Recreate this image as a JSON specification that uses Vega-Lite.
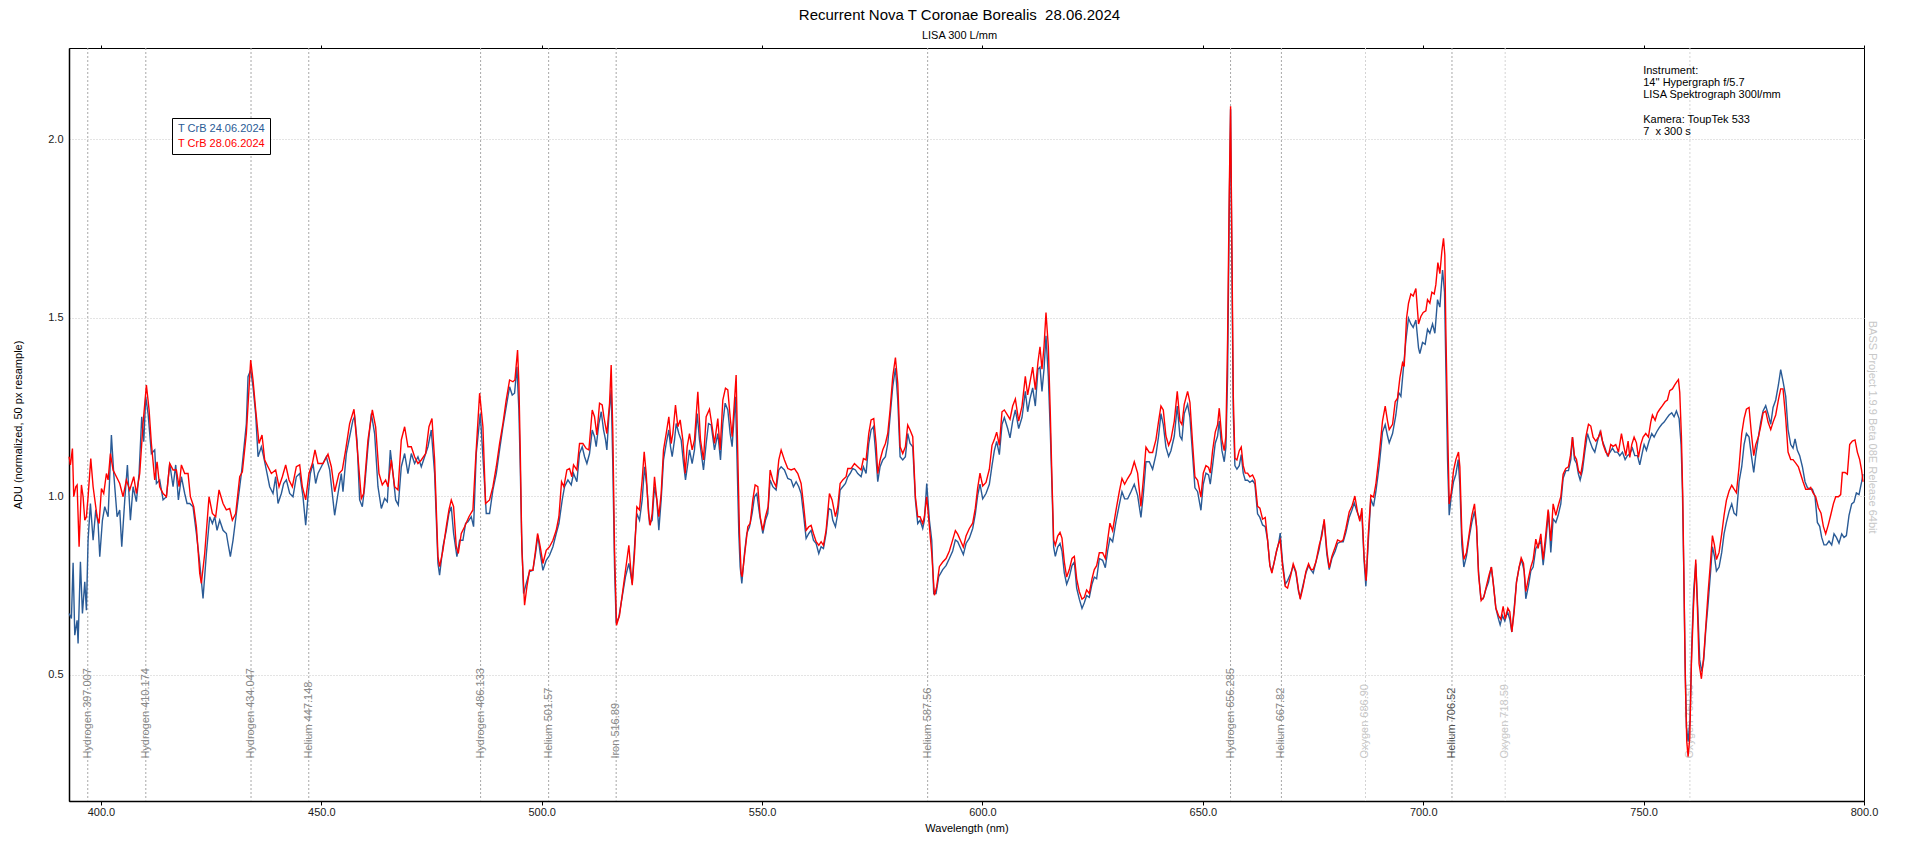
{
"$schema": "https://vega.github.io/schema/vega-lite/v6.json",
"width": 1795, "height": 753,
"autosize": {"type": "none"},
"padding": {"left": 69, "top": 48, "right": 56, "bottom": 47},
"background": "white",
"config": {"view": {"stroke": "#000000", "strokeWidth": 1}, "font": "Liberation Sans"},
"title": {"text": "Recurrent Nova T Coronae Borealis \u00a028.06.2024", "subtitle": "LISA 300 L/mm", "font": "Liberation Sans", "subtitleFont": "Liberation Sans", "fontSize": 15, "fontWeight": "normal", "subtitleFontSize": 11, "color": "#000000", "subtitleColor": "#000000", "anchor": "middle", "frame": "group", "dx": -7, "offset": 4, "subtitlePadding": 7},
"layer": [
{
"data": {"values": [
{"w":397.007,"t":"Hydrogen 397.007","e":"H"},
{"w":410.174,"t":"Hydrogen 410.174","e":"H"},
{"w":434.047,"t":"Hydrogen 434.047","e":"H"},
{"w":447.148,"t":"Helium 447.148","e":"He"},
{"w":486.133,"t":"Hydrogen 486.133","e":"H"},
{"w":501.57,"t":"Helium 501.57","e":"He"},
{"w":516.89,"t":"Iron 516.89","e":"Fe"},
{"w":587.56,"t":"Helium 587.56","e":"He"},
{"w":656.285,"t":"Hydrogen 656.285","e":"H"},
{"w":667.82,"t":"Helium 667.82","e":"He"},
{"w":686.90,"t":"Oxygen 686.90","e":"O"},
{"w":706.52,"t":"Helium 706.52","e":"He"},
{"w":718.59,"t":"Oxygen 718.59","e":"O"},
{"w":760.50,"t":"Oxygen 760.50","e":"O"}
]},
"mark": {"type": "rule", "strokeDash": [2, 2], "strokeWidth": 1},
"encoding": {
"x": {"field": "w", "type": "quantitative", "scale": {"domain": [392.75, 800], "nice": false, "zero": false}, "axis": {"orient": "top", "labels": false, "ticks": true, "tickSize": 3, "tickColor": "#000000", "domain": false, "grid": false, "title": null, "values": [400,450,500,550,600,650,700,750,800]}},
"color": {"condition": {"test": "datum.e === 'O'", "value": "#d4d4d4"}, "value": "#a8a8a8"}
}
},
{
"data": {"values": [
{"w":397.007,"t":"Hydrogen 397.007","e":"H"},
{"w":410.174,"t":"Hydrogen 410.174","e":"H"},
{"w":434.047,"t":"Hydrogen 434.047","e":"H"},
{"w":447.148,"t":"Helium 447.148","e":"He"},
{"w":486.133,"t":"Hydrogen 486.133","e":"H"},
{"w":501.57,"t":"Helium 501.57","e":"He"},
{"w":516.89,"t":"Iron 516.89","e":"Fe"},
{"w":587.56,"t":"Helium 587.56","e":"He"},
{"w":656.285,"t":"Hydrogen 656.285","e":"H"},
{"w":667.82,"t":"Helium 667.82","e":"He"},
{"w":686.90,"t":"Oxygen 686.90","e":"O"},
{"w":706.52,"t":"Helium 706.52","e":"He"},
{"w":718.59,"t":"Oxygen 718.59","e":"O"},
{"w":760.50,"t":"Oxygen 760.50","e":"O"}
]},
"mark": {"type": "text", "angle": 270, "align": "left", "baseline": "middle", "fontSize": 11, "font": "Liberation Sans"},
"encoding": {
"x": {"field": "w", "type": "quantitative", "scale": {"domain": [392.75, 800], "nice": false, "zero": false}, "axis": null},
"y": {"datum": 0.2644, "type": "quantitative", "scale": {"domain": [0.1457, 2.2549], "nice": false, "zero": false}, "axis": null},
"text": {"field": "t"},
"color": {"condition": [{"test": "datum.e === 'O'", "value": "#c8c8c8"}, {"test": "datum.w === 706.52", "value": "#505050"}], "value": "#888888"}
}
},
{
"data": {"values": [
{"s":"a","w":392.77,"v":0.671},{"s":"a","w":393.30,"v":0.657},{"s":"a","w":393.68,"v":0.813},{"s":"a","w":394.06,"v":0.610},{"s":"a","w":394.59,"v":0.652},{"s":"a","w":394.81,"v":0.587},{"s":"a","w":395.34,"v":0.816},{"s":"a","w":395.80,"v":0.671},{"s":"a","w":396.33,"v":0.760},{"s":"a","w":396.70,"v":0.680},{"s":"a","w":397.08,"v":0.876},{"s":"a","w":397.61,"v":0.979},{"s":"a","w":398.22,"v":0.876},{"s":"a","w":398.82,"v":0.961},{"s":"a","w":399.35,"v":0.923},{"s":"a","w":399.73,"v":0.830},{"s":"a","w":400.33,"v":0.932},{"s":"a","w":400.86,"v":0.970},{"s":"a","w":401.62,"v":0.942},{"s":"a","w":402.37,"v":1.171},{"s":"a","w":402.90,"v":1.063},{"s":"a","w":403.66,"v":0.942},{"s":"a","w":404.26,"v":0.961},{"s":"a","w":404.72,"v":0.858},{"s":"a","w":405.40,"v":0.989},{"s":"a","w":406.00,"v":1.087},{"s":"a","w":406.68,"v":0.932},{"s":"a","w":407.29,"v":1.026},{"s":"a","w":408.04,"v":0.984},{"s":"a","w":408.65,"v":1.063},{"s":"a","w":409.25,"v":1.222},{"s":"a","w":409.71,"v":1.152},{"s":"a","w":410.16,"v":1.278},{"s":"a","w":410.69,"v":1.231},{"s":"a","w":411.44,"v":1.119},{"s":"a","w":412.20,"v":1.129},{"s":"a","w":412.58,"v":1.035},{"s":"a","w":413.33,"v":1.045},{"s":"a","w":414.09,"v":0.989},{"s":"a","w":414.85,"v":0.998},{"s":"a","w":415.60,"v":1.091},{"s":"a","w":416.36,"v":1.026},{"s":"a","w":416.96,"v":1.087},{"s":"a","w":417.57,"v":0.989},{"s":"a","w":418.25,"v":1.054},{"s":"a","w":419.00,"v":1.007},{"s":"a","w":419.53,"v":0.979},{"s":"a","w":420.14,"v":0.979},{"s":"a","w":420.89,"v":0.970},{"s":"a","w":421.65,"v":0.895},{"s":"a","w":422.41,"v":0.813},{"s":"a","w":423.16,"v":0.713},{"s":"a","w":423.92,"v":0.839},{"s":"a","w":424.67,"v":0.942},{"s":"a","w":425.28,"v":0.923},{"s":"a","w":425.81,"v":0.942},{"s":"a","w":426.34,"v":0.904},{"s":"a","w":426.94,"v":0.932},{"s":"a","w":427.70,"v":0.904},{"s":"a","w":428.45,"v":0.895},{"s":"a","w":428.83,"v":0.867},{"s":"a","w":429.36,"v":0.830},{"s":"a","w":429.96,"v":0.876},{"s":"a","w":430.72,"v":0.951},{"s":"a","w":431.86,"v":1.063},{"s":"a","w":432.99,"v":1.203},{"s":"a","w":433.37,"v":1.334},{"s":"a","w":433.97,"v":1.353},{"s":"a","w":434.50,"v":1.306},{"s":"a","w":435.11,"v":1.227},{"s":"a","w":435.64,"v":1.110},{"s":"a","w":436.39,"v":1.138},{"s":"a","w":436.92,"v":1.110},{"s":"a","w":437.52,"v":1.073},{"s":"a","w":438.28,"v":1.026},{"s":"a","w":439.04,"v":1.007},{"s":"a","w":439.64,"v":1.054},{"s":"a","w":440.17,"v":0.979},{"s":"a","w":440.93,"v":1.007},{"s":"a","w":441.45,"v":1.035},{"s":"a","w":442.06,"v":1.045},{"s":"a","w":442.82,"v":1.007},{"s":"a","w":443.57,"v":0.998},{"s":"a","w":444.33,"v":1.054},{"s":"a","w":445.09,"v":1.063},{"s":"a","w":445.84,"v":0.998},{"s":"a","w":446.45,"v":0.918},{"s":"a","w":446.97,"v":0.998},{"s":"a","w":447.50,"v":1.063},{"s":"a","w":448.11,"v":1.091},{"s":"a","w":448.71,"v":1.035},{"s":"a","w":449.24,"v":1.063},{"s":"a","w":450.00,"v":1.082},{"s":"a","w":450.76,"v":1.101},{"s":"a","w":451.13,"v":1.110},{"s":"a","w":451.89,"v":1.073},{"s":"a","w":452.64,"v":0.989},{"s":"a","w":453.02,"v":0.946},{"s":"a","w":453.78,"v":1.007},{"s":"a","w":454.53,"v":1.063},{"s":"a","w":454.91,"v":1.012},{"s":"a","w":455.67,"v":1.119},{"s":"a","w":456.42,"v":1.166},{"s":"a","w":457.18,"v":1.213},{"s":"a","w":457.56,"v":1.222},{"s":"a","w":458.09,"v":1.157},{"s":"a","w":458.69,"v":0.989},{"s":"a","w":459.30,"v":0.970},{"s":"a","w":459.83,"v":1.026},{"s":"a","w":460.58,"v":1.138},{"s":"a","w":461.34,"v":1.231},{"s":"a","w":462.09,"v":1.175},{"s":"a","w":462.85,"v":1.026},{"s":"a","w":463.61,"v":0.965},{"s":"a","w":464.36,"v":0.993},{"s":"a","w":464.97,"v":0.984},{"s":"a","w":465.65,"v":1.129},{"s":"a","w":466.25,"v":1.063},{"s":"a","w":466.86,"v":0.989},{"s":"a","w":467.46,"v":0.975},{"s":"a","w":468.14,"v":1.082},{"s":"a","w":468.90,"v":1.119},{"s":"a","w":469.65,"v":1.063},{"s":"a","w":470.41,"v":1.119},{"s":"a","w":471.16,"v":1.091},{"s":"a","w":471.92,"v":1.110},{"s":"a","w":472.68,"v":1.082},{"s":"a","w":473.43,"v":1.110},{"s":"a","w":474.19,"v":1.138},{"s":"a","w":474.94,"v":1.185},{"s":"a","w":475.70,"v":1.063},{"s":"a","w":476.46,"v":0.811},{"s":"a","w":476.83,"v":0.778},{"s":"a","w":477.59,"v":0.858},{"s":"a","w":478.35,"v":0.904},{"s":"a","w":478.95,"v":0.951},{"s":"a","w":479.48,"v":0.970},{"s":"a","w":480.01,"v":0.895},{"s":"a","w":480.76,"v":0.830},{"s":"a","w":481.37,"v":0.876},{"s":"a","w":482.12,"v":0.876},{"s":"a","w":482.73,"v":0.923},{"s":"a","w":483.26,"v":0.928},{"s":"a","w":484.01,"v":0.942},{"s":"a","w":484.54,"v":0.914},{"s":"a","w":485.15,"v":1.119},{"s":"a","w":486.06,"v":1.231},{"s":"a","w":486.66,"v":1.110},{"s":"a","w":487.42,"v":0.951},{"s":"a","w":488.17,"v":0.951},{"s":"a","w":488.93,"v":1.017},{"s":"a","w":489.69,"v":1.063},{"s":"a","w":490.44,"v":1.129},{"s":"a","w":491.20,"v":1.194},{"s":"a","w":491.95,"v":1.250},{"s":"a","w":492.71,"v":1.306},{"s":"a","w":493.31,"v":1.283},{"s":"a","w":493.84,"v":1.288},{"s":"a","w":494.37,"v":1.362},
{"s":"a","w":494.82,"v":1.241},{"s":"a","w":495.13,"v":1.082},{"s":"a","w":495.43,"v":0.895},{"s":"a","w":495.88,"v":0.727},{"s":"a","w":496.49,"v":0.755},{"s":"a","w":497.24,"v":0.788},{"s":"a","w":498.00,"v":0.792},{"s":"a","w":498.60,"v":0.839},{"s":"a","w":499.13,"v":0.890},{"s":"a","w":499.66,"v":0.839},{"s":"a","w":500.27,"v":0.792},{"s":"a","w":501.02,"v":0.820},{"s":"a","w":501.78,"v":0.834},{"s":"a","w":502.54,"v":0.858},{"s":"a","w":503.29,"v":0.895},{"s":"a","w":503.90,"v":0.923},{"s":"a","w":504.65,"v":0.989},{"s":"a","w":505.18,"v":1.026},{"s":"a","w":505.94,"v":1.045},{"s":"a","w":506.69,"v":1.031},{"s":"a","w":507.22,"v":1.063},{"s":"a","w":507.98,"v":1.040},{"s":"a","w":508.58,"v":1.119},{"s":"a","w":509.19,"v":1.138},{"s":"a","w":509.72,"v":1.110},{"s":"a","w":510.25,"v":1.091},{"s":"a","w":510.85,"v":1.119},{"s":"a","w":511.46,"v":1.185},{"s":"a","w":511.98,"v":1.166},{"s":"a","w":512.36,"v":1.138},{"s":"a","w":512.97,"v":1.203},{"s":"a","w":513.50,"v":1.236},{"s":"a","w":514.03,"v":1.185},{"s":"a","w":514.48,"v":1.157},{"s":"a","w":514.78,"v":1.129},{"s":"a","w":515.23,"v":1.222},{"s":"a","w":515.76,"v":1.297},{"s":"a","w":516.14,"v":1.082},{"s":"a","w":516.52,"v":0.802},{"s":"a","w":516.90,"v":0.643},{"s":"a","w":517.50,"v":0.661},{"s":"a","w":518.26,"v":0.718},{"s":"a","w":519.01,"v":0.774},{"s":"a","w":519.77,"v":0.811},{"s":"a","w":520.53,"v":0.755},{"s":"a","w":521.06,"v":0.858},{"s":"a","w":521.58,"v":0.951},{"s":"a","w":522.19,"v":0.932},{"s":"a","w":522.79,"v":0.989},{"s":"a","w":523.32,"v":1.082},{"s":"a","w":523.85,"v":1.026},{"s":"a","w":524.46,"v":0.923},{"s":"a","w":525.06,"v":0.932},{"s":"a","w":525.59,"v":1.026},{"s":"a","w":526.12,"v":0.989},{"s":"a","w":526.57,"v":0.904},{"s":"a","w":527.10,"v":0.989},{"s":"a","w":527.63,"v":1.101},{"s":"a","w":528.24,"v":1.147},{"s":"a","w":528.84,"v":1.185},{"s":"a","w":529.22,"v":1.138},{"s":"a","w":529.60,"v":1.110},{"s":"a","w":530.13,"v":1.157},{"s":"a","w":530.51,"v":1.203},{"s":"a","w":531.11,"v":1.175},{"s":"a","w":531.64,"v":1.157},{"s":"a","w":532.17,"v":1.091},{"s":"a","w":532.62,"v":1.045},{"s":"a","w":533.15,"v":1.091},{"s":"a","w":533.53,"v":1.129},{"s":"a","w":534.13,"v":1.091},{"s":"a","w":534.66,"v":1.129},{"s":"a","w":535.27,"v":1.231},{"s":"a","w":535.80,"v":1.157},{"s":"a","w":536.70,"v":1.073},{"s":"a","w":537.31,"v":1.147},{"s":"a","w":537.84,"v":1.203},{"s":"a","w":538.44,"v":1.199},{"s":"a","w":539.20,"v":1.129},{"s":"a","w":539.95,"v":1.175},{"s":"a","w":540.56,"v":1.101},{"s":"a","w":541.09,"v":1.203},{"s":"a","w":541.62,"v":1.260},{"s":"a","w":542.22,"v":1.241},{"s":"a","w":542.75,"v":1.175},{"s":"a","w":543.20,"v":1.138},{"s":"a","w":543.96,"v":1.278},{"s":"a","w":544.26,"v":1.129},{"s":"a","w":544.72,"v":0.895},{"s":"a","w":545.02,"v":0.802},{"s":"a","w":545.40,"v":0.755},{"s":"a","w":546.00,"v":0.839},{"s":"a","w":546.53,"v":0.895},{"s":"a","w":547.14,"v":0.914},{"s":"a","w":547.74,"v":0.951},{"s":"a","w":548.27,"v":0.998},{"s":"a","w":548.80,"v":1.007},{"s":"a","w":549.40,"v":0.951},{"s":"a","w":550.16,"v":0.895},{"s":"a","w":550.76,"v":0.932},{"s":"a","w":551.29,"v":0.951},{"s":"a","w":551.82,"v":1.045},{"s":"a","w":552.43,"v":1.026},{"s":"a","w":553.18,"v":1.017},{"s":"a","w":553.79,"v":1.073},{"s":"a","w":554.32,"v":1.082},{"s":"a","w":555.07,"v":1.073},{"s":"a","w":555.83,"v":1.049},{"s":"a","w":556.59,"v":1.045},{"s":"a","w":557.11,"v":1.026},{"s":"a","w":557.72,"v":1.040},{"s":"a","w":558.32,"v":1.026},{"s":"a","w":558.85,"v":1.007},{"s":"a","w":559.38,"v":0.951},{"s":"a","w":559.99,"v":0.881},{"s":"a","w":560.59,"v":0.895},{"s":"a","w":561.12,"v":0.904},{"s":"a","w":561.65,"v":0.876},{"s":"a","w":562.26,"v":0.867},{"s":"a","w":562.86,"v":0.839},{"s":"a","w":563.39,"v":0.858},{"s":"a","w":563.92,"v":0.853},{"s":"a","w":564.52,"v":0.895},{"s":"a","w":565.13,"v":0.965},{"s":"a","w":565.66,"v":0.961},{"s":"a","w":566.04,"v":0.932},{"s":"a","w":566.64,"v":0.914},{"s":"a","w":567.17,"v":0.951},{"s":"a","w":567.70,"v":1.017},{"s":"a","w":568.30,"v":1.026},{"s":"a","w":568.91,"v":1.035},{"s":"a","w":569.44,"v":1.054},{"s":"a","w":569.97,"v":1.063},{"s":"a","w":570.57,"v":1.077},{"s":"a","w":571.18,"v":1.073},{"s":"a","w":571.70,"v":1.063},{"s":"a","w":572.46,"v":1.054},{"s":"a","w":572.99,"v":1.082},{"s":"a","w":573.59,"v":1.063},{"s":"a","w":574.20,"v":1.147},{"s":"a","w":574.73,"v":1.185},{"s":"a","w":575.26,"v":1.194},{"s":"a","w":575.71,"v":1.129},{"s":"a","w":576.24,"v":1.040},{"s":"a","w":576.77,"v":1.082},{"s":"a","w":577.37,"v":1.101},{"s":"a","w":577.98,"v":1.110},{"s":"a","w":578.51,"v":1.147},{"s":"a","w":579.04,"v":1.222},{"s":"a","w":579.64,"v":1.306},{"s":"a","w":580.25,"v":1.358},{"s":"a","w":580.78,"v":1.269},{"s":"a","w":581.31,"v":1.110},{"s":"a","w":581.91,"v":1.101},{"s":"a","w":582.51,"v":1.110},{"s":"a","w":583.04,"v":1.175},{"s":"a","w":583.57,"v":1.147},{"s":"a","w":584.18,"v":1.138},{"s":"a","w":584.78,"v":0.989},{"s":"a","w":585.31,"v":0.923},{"s":"a","w":585.84,"v":0.932},{"s":"a","w":586.44,"v":0.909},{"s":"a","w":586.82,"v":0.932},{"s":"a","w":587.35,"v":1.035},{"s":"a","w":587.96,"v":0.932},{"s":"a","w":588.49,"v":0.876},{"s":"a","w":588.94,"v":0.727},{"s":"a","w":589.47,"v":0.727},{"s":"a","w":590.07,"v":0.774},
{"s":"a","w":590.98,"v":0.794},{"s":"a","w":591.73,"v":0.805},{"s":"a","w":592.49,"v":0.825},{"s":"a","w":593.24,"v":0.846},{"s":"a","w":593.85,"v":0.877},{"s":"a","w":594.38,"v":0.872},{"s":"a","w":595.13,"v":0.851},{"s":"a","w":595.66,"v":0.836},{"s":"a","w":596.27,"v":0.867},{"s":"a","w":597.02,"v":0.882},{"s":"a","w":597.78,"v":0.909},{"s":"a","w":598.38,"v":0.950},{"s":"a","w":598.91,"v":1.002},{"s":"a","w":599.44,"v":1.033},{"s":"a","w":600.05,"v":0.992},{"s":"a","w":600.80,"v":1.007},{"s":"a","w":601.56,"v":1.033},{"s":"a","w":602.16,"v":1.085},{"s":"a","w":602.69,"v":1.127},{"s":"a","w":603.22,"v":1.153},{"s":"a","w":603.83,"v":1.116},{"s":"a","w":604.43,"v":1.200},{"s":"a","w":604.96,"v":1.220},{"s":"a","w":605.72,"v":1.189},{"s":"a","w":606.25,"v":1.163},{"s":"a","w":606.85,"v":1.210},{"s":"a","w":607.46,"v":1.241},{"s":"a","w":608.21,"v":1.189},{"s":"a","w":608.97,"v":1.220},{"s":"a","w":609.72,"v":1.293},{"s":"a","w":610.25,"v":1.236},{"s":"a","w":610.78,"v":1.272},{"s":"a","w":611.39,"v":1.303},{"s":"a","w":611.99,"v":1.252},{"s":"a","w":612.60,"v":1.355},{"s":"a","w":613.05,"v":1.361},{"s":"a","w":613.50,"v":1.293},{"s":"a","w":613.96,"v":1.355},{"s":"a","w":614.41,"v":1.449},{"s":"a","w":614.94,"v":1.335},{"s":"a","w":615.39,"v":1.179},{"s":"a","w":615.77,"v":1.023},{"s":"a","w":616.15,"v":0.857},{"s":"a","w":616.53,"v":0.831},{"s":"a","w":617.06,"v":0.857},{"s":"a","w":617.59,"v":0.867},{"s":"a","w":618.04,"v":0.846},{"s":"a","w":618.57,"v":0.784},{"s":"a","w":619.10,"v":0.753},{"s":"a","w":619.70,"v":0.773},{"s":"a","w":620.31,"v":0.805},{"s":"a","w":620.84,"v":0.815},{"s":"a","w":621.37,"v":0.742},{"s":"a","w":621.97,"v":0.711},{"s":"a","w":622.58,"v":0.685},{"s":"a","w":623.10,"v":0.701},{"s":"a","w":623.63,"v":0.721},{"s":"a","w":624.24,"v":0.716},{"s":"a","w":624.84,"v":0.753},{"s":"a","w":625.37,"v":0.773},{"s":"a","w":625.90,"v":0.768},{"s":"a","w":626.51,"v":0.825},{"s":"a","w":627.26,"v":0.820},{"s":"a","w":627.87,"v":0.799},{"s":"a","w":628.40,"v":0.846},{"s":"a","w":628.92,"v":0.882},{"s":"a","w":629.53,"v":0.872},{"s":"a","w":630.29,"v":0.929},{"s":"a","w":631.04,"v":0.976},{"s":"a","w":631.65,"v":1.012},{"s":"a","w":632.25,"v":0.992},{"s":"a","w":632.93,"v":0.992},{"s":"a","w":633.69,"v":1.012},{"s":"a","w":634.44,"v":1.033},{"s":"a","w":635.20,"v":1.002},{"s":"a","w":635.95,"v":0.940},{"s":"a","w":636.48,"v":1.002},{"s":"a","w":637.09,"v":1.096},{"s":"a","w":637.85,"v":1.096},{"s":"a","w":638.60,"v":1.075},{"s":"a","w":639.36,"v":1.116},{"s":"a","w":639.96,"v":1.168},{"s":"a","w":640.49,"v":1.231},{"s":"a","w":641.02,"v":1.200},{"s":"a","w":641.62,"v":1.137},{"s":"a","w":642.23,"v":1.111},{"s":"a","w":642.76,"v":1.127},{"s":"a","w":643.52,"v":1.168},{"s":"a","w":644.19,"v":1.252},{"s":"a","w":644.80,"v":1.168},{"s":"a","w":645.25,"v":1.158},{"s":"a","w":645.78,"v":1.231},{"s":"a","w":646.54,"v":1.257},{"s":"a","w":647.07,"v":1.220},{"s":"a","w":647.67,"v":1.116},{"s":"a","w":648.20,"v":1.023},{"s":"a","w":648.81,"v":1.012},{"s":"a","w":649.56,"v":0.960},{"s":"a","w":650.09,"v":1.033},{"s":"a","w":650.70,"v":1.064},{"s":"a","w":651.30,"v":1.059},{"s":"a","w":651.68,"v":1.033},{"s":"a","w":652.21,"v":1.085},{"s":"a","w":652.81,"v":1.148},{"s":"a","w":653.34,"v":1.168},{"s":"a","w":653.72,"v":1.210},{"s":"a","w":654.33,"v":1.127},{"s":"a","w":654.85,"v":1.096},{"s":"a","w":655.23,"v":1.137},{"s":"a","w":655.61,"v":1.335},{"s":"a","w":655.99,"v":1.802},{"s":"a","w":656.29,"v":2.083},{"s":"a","w":656.59,"v":1.647},{"s":"a","w":656.90,"v":1.231},{"s":"a","w":657.27,"v":1.085},{"s":"a","w":657.73,"v":1.075},{"s":"a","w":658.26,"v":1.085},{"s":"a","w":658.71,"v":1.116},{"s":"a","w":659.16,"v":1.064},{"s":"a","w":659.62,"v":1.044},{"s":"a","w":660.15,"v":1.044},{"s":"a","w":660.67,"v":1.038},{"s":"a","w":661.28,"v":1.044},{"s":"a","w":661.81,"v":1.033},{"s":"a","w":662.41,"v":0.950},{"s":"a","w":662.94,"v":0.940},{"s":"a","w":663.55,"v":0.919},{"s":"a","w":664.15,"v":0.914},{"s":"a","w":664.68,"v":0.877},{"s":"a","w":665.21,"v":0.805},{"s":"a","w":665.66,"v":0.789},{"s":"a","w":666.19,"v":0.815},{"s":"a","w":666.72,"v":0.846},{"s":"a","w":667.18,"v":0.867},{"s":"a","w":667.55,"v":0.896},{"s":"a","w":668.08,"v":0.815},{"s":"a","w":668.69,"v":0.753},{"s":"a","w":669.22,"v":0.763},{"s":"a","w":669.97,"v":0.784},{"s":"a","w":670.50,"v":0.805},{"s":"a","w":671.11,"v":0.784},{"s":"a","w":671.71,"v":0.732},{"s":"a","w":672.09,"v":0.716},{"s":"a","w":672.77,"v":0.753},{"s":"a","w":673.38,"v":0.784},{"s":"a","w":673.98,"v":0.805},{"s":"a","w":674.51,"v":0.794},{"s":"a","w":675.04,"v":0.784},{"s":"a","w":675.64,"v":0.815},{"s":"a","w":676.40,"v":0.851},{"s":"a","w":677.00,"v":0.898},{"s":"a","w":677.53,"v":0.929},{"s":"a","w":678.14,"v":0.836},{"s":"a","w":678.67,"v":0.794},{"s":"a","w":679.27,"v":0.825},{"s":"a","w":680.03,"v":0.846},{"s":"a","w":680.56,"v":0.867},{"s":"a","w":681.31,"v":0.872},{"s":"a","w":681.84,"v":0.872},{"s":"a","w":682.45,"v":0.898},{"s":"a","w":683.20,"v":0.940},{"s":"a","w":683.81,"v":0.960},{"s":"a","w":684.34,"v":0.981},{"s":"a","w":684.87,"v":0.960},{"s":"a","w":685.47,"v":0.940},{"s":"a","w":686.08,"v":0.950},{"s":"a","w":686.60,"v":0.815},{"s":"a","w":686.98,"v":0.747},{"s":"a","w":687.51,"v":0.867},{"s":"a","w":688.11,"v":0.992},{"s":"a","w":688.72,"v":0.971},{"s":"a","w":689.25,"v":1.012},{"s":"a","w":690.01,"v":1.085},{"s":"a","w":690.76,"v":1.179},{"s":"a","w":691.37,"v":1.200},{"s":"a","w":691.90,"v":1.168},
{"s":"a","w":692.28,"v":1.149},{"s":"a","w":693.04,"v":1.175},{"s":"a","w":693.79,"v":1.227},{"s":"a","w":694.40,"v":1.290},{"s":"a","w":694.93,"v":1.279},{"s":"a","w":695.46,"v":1.352},{"s":"a","w":696.06,"v":1.436},{"s":"a","w":696.66,"v":1.498},{"s":"a","w":697.19,"v":1.482},{"s":"a","w":697.72,"v":1.472},{"s":"a","w":698.33,"v":1.493},{"s":"a","w":698.93,"v":1.415},{"s":"a","w":699.23,"v":1.399},{"s":"a","w":699.84,"v":1.430},{"s":"a","w":700.44,"v":1.425},{"s":"a","w":700.97,"v":1.467},{"s":"a","w":701.50,"v":1.456},{"s":"a","w":702.11,"v":1.482},{"s":"a","w":702.64,"v":1.456},{"s":"a","w":703.24,"v":1.550},{"s":"a","w":703.77,"v":1.529},{"s":"a","w":704.38,"v":1.633},{"s":"a","w":704.83,"v":1.571},{"s":"a","w":705.13,"v":1.363},{"s":"a","w":705.51,"v":1.102},{"s":"a","w":705.89,"v":0.946},{"s":"a","w":706.34,"v":0.998},{"s":"a","w":706.87,"v":1.040},{"s":"a","w":707.40,"v":1.061},{"s":"a","w":707.93,"v":1.102},{"s":"a","w":708.31,"v":1.030},{"s":"a","w":708.76,"v":0.863},{"s":"a","w":709.21,"v":0.801},{"s":"a","w":709.82,"v":0.832},{"s":"a","w":710.42,"v":0.884},{"s":"a","w":711.03,"v":0.926},{"s":"a","w":711.63,"v":0.957},{"s":"a","w":712.09,"v":0.915},{"s":"a","w":712.54,"v":0.790},{"s":"a","w":713.07,"v":0.712},{"s":"a","w":713.60,"v":0.712},{"s":"a","w":714.20,"v":0.738},{"s":"a","w":714.81,"v":0.759},{"s":"a","w":715.41,"v":0.801},{"s":"a","w":715.87,"v":0.759},{"s":"a","w":716.47,"v":0.686},{"s":"a","w":717.08,"v":0.655},{"s":"a","w":717.45,"v":0.639},{"s":"a","w":717.98,"v":0.665},{"s":"a","w":718.51,"v":0.650},{"s":"a","w":719.12,"v":0.676},{"s":"a","w":719.64,"v":0.655},{"s":"a","w":720.10,"v":0.619},{"s":"a","w":720.63,"v":0.686},{"s":"a","w":721.16,"v":0.759},{"s":"a","w":721.76,"v":0.801},{"s":"a","w":722.29,"v":0.822},{"s":"a","w":722.90,"v":0.790},{"s":"a","w":723.27,"v":0.712},{"s":"a","w":723.88,"v":0.749},{"s":"a","w":724.41,"v":0.790},{"s":"a","w":724.94,"v":0.801},{"s":"a","w":725.54,"v":0.853},{"s":"a","w":726.07,"v":0.863},{"s":"a","w":726.68,"v":0.874},{"s":"a","w":727.21,"v":0.806},{"s":"a","w":727.81,"v":0.874},{"s":"a","w":728.41,"v":0.957},{"s":"a","w":728.94,"v":0.842},{"s":"a","w":729.47,"v":0.936},{"s":"a","w":730.08,"v":0.926},{"s":"a","w":730.61,"v":0.946},{"s":"a","w":731.21,"v":0.978},{"s":"a","w":731.74,"v":1.050},{"s":"a","w":732.35,"v":1.071},{"s":"a","w":732.95,"v":1.071},{"s":"a","w":733.48,"v":1.102},{"s":"a","w":733.86,"v":1.165},{"s":"a","w":734.31,"v":1.102},{"s":"a","w":734.77,"v":1.092},{"s":"a","w":735.22,"v":1.061},{"s":"a","w":735.60,"v":1.045},{"s":"a","w":736.12,"v":1.071},{"s":"a","w":736.65,"v":1.123},{"s":"a","w":737.26,"v":1.175},{"s":"a","w":737.79,"v":1.154},{"s":"a","w":738.39,"v":1.134},{"s":"a","w":738.92,"v":1.123},{"s":"a","w":739.53,"v":1.154},{"s":"a","w":740.13,"v":1.180},{"s":"a","w":740.66,"v":1.154},{"s":"a","w":741.27,"v":1.134},{"s":"a","w":741.79,"v":1.113},{"s":"a","w":742.40,"v":1.123},{"s":"a","w":742.93,"v":1.134},{"s":"a","w":743.46,"v":1.123},{"s":"a","w":744.06,"v":1.123},{"s":"a","w":744.59,"v":1.113},{"s":"a","w":745.20,"v":1.123},{"s":"a","w":745.80,"v":1.102},{"s":"a","w":746.33,"v":1.113},{"s":"a","w":746.86,"v":1.118},{"s":"a","w":747.47,"v":1.134},{"s":"a","w":747.99,"v":1.113},{"s":"a","w":748.60,"v":1.113},{"s":"a","w":749.13,"v":1.087},{"s":"a","w":749.73,"v":1.123},{"s":"a","w":750.11,"v":1.144},{"s":"a","w":750.64,"v":1.128},{"s":"a","w":751.24,"v":1.154},{"s":"a","w":751.85,"v":1.175},{"s":"a","w":752.38,"v":1.165},{"s":"a","w":752.98,"v":1.180},{"s":"a","w":753.51,"v":1.191},{"s":"a","w":754.12,"v":1.201},{"s":"a","w":754.65,"v":1.207},{"s":"a","w":755.18,"v":1.217},{"s":"a","w":755.78,"v":1.227},{"s":"a","w":756.38,"v":1.233},{"s":"a","w":756.91,"v":1.222},{"s":"a","w":757.44,"v":1.238},{"s":"a","w":758.05,"v":1.217},{"s":"a","w":758.50,"v":1.144},{"s":"a","w":758.80,"v":1.019},{"s":"a","w":759.11,"v":0.790},{"s":"a","w":759.41,"v":0.530},{"s":"a","w":759.71,"v":0.353},{"s":"a","w":760.09,"v":0.312},{"s":"a","w":760.54,"v":0.374},{"s":"a","w":760.92,"v":0.582},{"s":"a","w":761.37,"v":0.738},{"s":"a","w":761.83,"v":0.811},{"s":"a","w":762.28,"v":0.686},{"s":"a","w":762.73,"v":0.541},{"s":"a","w":763.19,"v":0.509},{"s":"a","w":763.64,"v":0.541},{"s":"a","w":764.10,"v":0.624},{"s":"a","w":764.62,"v":0.697},{"s":"a","w":765.15,"v":0.780},{"s":"a","w":765.61,"v":0.858},{"s":"a","w":766.06,"v":0.832},{"s":"a","w":766.52,"v":0.790},{"s":"a","w":767.12,"v":0.801},{"s":"a","w":767.72,"v":0.842},{"s":"a","w":768.25,"v":0.894},{"s":"a","w":768.78,"v":0.926},{"s":"a","w":769.39,"v":0.957},{"s":"a","w":769.99,"v":0.978},{"s":"a","w":770.52,"v":0.952},{"s":"a","w":771.05,"v":0.946},{"s":"a","w":771.66,"v":1.040},{"s":"a","w":772.26,"v":1.082},{"s":"a","w":772.79,"v":1.144},{"s":"a","w":773.32,"v":1.175},{"s":"a","w":773.92,"v":1.165},{"s":"a","w":774.45,"v":1.113},{"s":"a","w":774.98,"v":1.066},{"s":"a","w":775.43,"v":1.113},{"s":"a","w":776.04,"v":1.165},{"s":"a","w":776.57,"v":1.207},{"s":"a","w":777.10,"v":1.238},{"s":"a","w":777.70,"v":1.253},{"s":"a","w":778.31,"v":1.227},{"s":"a","w":778.84,"v":1.201},{"s":"a","w":779.37,"v":1.248},{"s":"a","w":779.97,"v":1.269},{"s":"a","w":780.58,"v":1.311},{"s":"a","w":781.10,"v":1.354},{"s":"a","w":781.63,"v":1.321},{"s":"a","w":782.24,"v":1.279},{"s":"a","w":782.77,"v":1.186},{"s":"a","w":783.37,"v":1.144},{"s":"a","w":783.90,"v":1.134},{"s":"a","w":784.36,"v":1.160},{"s":"a","w":784.88,"v":1.128},{"s":"a","w":785.41,"v":1.113},{"s":"a","w":786.02,"v":1.082},{"s":"a","w":786.62,"v":1.040},{"s":"a","w":787.15,"v":1.024},{"s":"a","w":787.68,"v":1.019},{"s":"a","w":788.29,"v":1.019},{"s":"a","w":788.89,"v":0.998},{"s":"a","w":789.42,"v":0.926},{"s":"a","w":789.95,"v":0.915},{"s":"a","w":790.40,"v":0.884},{"s":"a","w":790.93,"v":0.863},{"s":"a","w":791.46,"v":0.863},{"s":"a","w":792.06,"v":0.874},{"s":"a","w":792.67,"v":0.863},{"s":"a","w":793.20,"v":0.894},{"s":"a","w":793.73,"v":0.884},{"s":"a","w":794.33,"v":0.868},{"s":"a","w":794.94,"v":0.894},{"s":"a","w":795.47,"v":0.884},{"s":"a","w":796.00,"v":0.889},{"s":"a","w":796.60,"v":0.946},{"s":"a","w":797.21,"v":0.978},{"s":"a","w":797.73,"v":0.983},{"s":"a","w":798.27,"v":1.009},{"s":"a","w":798.87,"v":1.004},{"s":"a","w":799.47,"v":1.040},{"s":"a","w":799.78,"v":1.061},
{"s":"b","w":392.77,"v":1.110},{"s":"b","w":393.07,"v":1.087},{"s":"b","w":393.53,"v":1.133},{"s":"b","w":393.83,"v":0.998},{"s":"b","w":394.29,"v":1.026},{"s":"b","w":394.59,"v":1.031},{"s":"b","w":395.04,"v":0.858},{"s":"b","w":395.57,"v":1.031},{"s":"b","w":395.95,"v":0.998},{"s":"b","w":396.33,"v":0.932},{"s":"b","w":396.70,"v":0.942},{"s":"b","w":397.08,"v":0.998},{"s":"b","w":397.69,"v":1.105},{"s":"b","w":398.22,"v":1.026},{"s":"b","w":398.82,"v":0.970},{"s":"b","w":399.12,"v":0.942},{"s":"b","w":399.58,"v":0.923},{"s":"b","w":400.11,"v":1.021},{"s":"b","w":400.63,"v":1.007},{"s":"b","w":401.24,"v":1.063},{"s":"b","w":401.62,"v":1.045},{"s":"b","w":402.15,"v":1.119},{"s":"b","w":402.75,"v":1.073},{"s":"b","w":403.51,"v":1.054},{"s":"b","w":404.26,"v":1.035},{"s":"b","w":405.02,"v":0.998},{"s":"b","w":405.77,"v":1.045},{"s":"b","w":406.53,"v":1.017},{"s":"b","w":407.44,"v":1.054},{"s":"b","w":408.04,"v":1.007},{"s":"b","w":408.80,"v":1.063},{"s":"b","w":409.55,"v":1.203},{"s":"b","w":410.31,"v":1.311},{"s":"b","w":410.92,"v":1.241},{"s":"b","w":411.44,"v":1.147},{"s":"b","w":412.20,"v":1.045},{"s":"b","w":412.73,"v":1.096},{"s":"b","w":413.33,"v":1.026},{"s":"b","w":414.09,"v":1.007},{"s":"b","w":414.85,"v":0.998},{"s":"b","w":415.60,"v":1.091},{"s":"b","w":416.36,"v":1.073},{"s":"b","w":417.11,"v":1.073},{"s":"b","w":417.72,"v":1.026},{"s":"b","w":418.25,"v":1.087},{"s":"b","w":419.00,"v":1.063},{"s":"b","w":419.76,"v":1.063},{"s":"b","w":420.29,"v":0.998},{"s":"b","w":421.05,"v":0.970},{"s":"b","w":421.65,"v":0.914},{"s":"b","w":422.41,"v":0.783},{"s":"b","w":422.78,"v":0.755},{"s":"b","w":423.54,"v":0.839},{"s":"b","w":424.52,"v":0.998},{"s":"b","w":425.28,"v":0.951},{"s":"b","w":426.03,"v":0.942},{"s":"b","w":426.79,"v":1.017},{"s":"b","w":427.70,"v":0.979},{"s":"b","w":428.45,"v":0.961},{"s":"b","w":429.21,"v":0.965},{"s":"b","w":429.81,"v":0.932},{"s":"b","w":430.57,"v":0.951},{"s":"b","w":431.48,"v":1.054},{"s":"b","w":432.08,"v":1.068},{"s":"b","w":432.99,"v":1.175},{"s":"b","w":433.97,"v":1.381},{"s":"b","w":434.50,"v":1.325},{"s":"b","w":435.11,"v":1.241},{"s":"b","w":435.86,"v":1.147},{"s":"b","w":436.54,"v":1.171},{"s":"b","w":437.15,"v":1.101},{"s":"b","w":437.90,"v":1.082},{"s":"b","w":438.66,"v":1.063},{"s":"b","w":439.64,"v":1.073},{"s":"b","w":440.40,"v":1.026},{"s":"b","w":441.15,"v":1.054},{"s":"b","w":441.91,"v":1.087},{"s":"b","w":442.67,"v":1.045},{"s":"b","w":443.42,"v":1.026},{"s":"b","w":444.33,"v":1.082},{"s":"b","w":445.09,"v":1.087},{"s":"b","w":445.69,"v":1.026},{"s":"b","w":446.45,"v":0.989},{"s":"b","w":447.20,"v":1.063},{"s":"b","w":447.96,"v":1.091},{"s":"b","w":448.56,"v":1.129},{"s":"b","w":449.24,"v":1.091},{"s":"b","w":450.38,"v":1.091},{"s":"b","w":451.51,"v":1.117},{"s":"b","w":452.27,"v":1.082},{"s":"b","w":453.02,"v":1.012},{"s":"b","w":454.00,"v":1.063},{"s":"b","w":454.76,"v":1.073},{"s":"b","w":455.52,"v":1.129},{"s":"b","w":456.42,"v":1.203},{"s":"b","w":457.41,"v":1.243},{"s":"b","w":458.31,"v":1.110},{"s":"b","w":459.07,"v":0.993},{"s":"b","w":459.60,"v":1.007},{"s":"b","w":460.58,"v":1.157},{"s":"b","w":461.57,"v":1.241},{"s":"b","w":462.32,"v":1.194},{"s":"b","w":463.08,"v":1.063},{"s":"b","w":463.83,"v":1.031},{"s":"b","w":464.59,"v":1.045},{"s":"b","w":465.12,"v":1.026},{"s":"b","w":465.87,"v":1.101},{"s":"b","w":466.63,"v":1.026},{"s":"b","w":467.39,"v":1.017},{"s":"b","w":468.14,"v":1.157},{"s":"b","w":468.90,"v":1.194},{"s":"b","w":469.65,"v":1.138},{"s":"b","w":470.41,"v":1.138},{"s":"b","w":471.16,"v":1.110},{"s":"b","w":471.92,"v":1.091},{"s":"b","w":472.68,"v":1.101},{"s":"b","w":473.66,"v":1.119},{"s":"b","w":474.42,"v":1.194},{"s":"b","w":475.10,"v":1.217},{"s":"b","w":475.70,"v":1.101},{"s":"b","w":476.46,"v":0.830},{"s":"b","w":476.83,"v":0.802},{"s":"b","w":477.59,"v":0.848},{"s":"b","w":478.35,"v":0.914},{"s":"b","w":478.95,"v":0.961},{"s":"b","w":479.48,"v":0.989},{"s":"b","w":480.01,"v":0.970},{"s":"b","w":480.61,"v":0.858},{"s":"b","w":481.07,"v":0.839},{"s":"b","w":481.75,"v":0.895},{"s":"b","w":482.50,"v":0.914},{"s":"b","w":483.49,"v":0.942},{"s":"b","w":484.39,"v":0.961},{"s":"b","w":485.00,"v":1.101},{"s":"b","w":485.91,"v":1.288},{"s":"b","w":486.66,"v":1.194},{"s":"b","w":487.26,"v":0.979},{"s":"b","w":488.17,"v":0.989},{"s":"b","w":488.93,"v":1.026},{"s":"b","w":489.69,"v":1.082},{"s":"b","w":490.44,"v":1.147},{"s":"b","w":491.20,"v":1.203},{"s":"b","w":491.95,"v":1.269},{"s":"b","w":492.71,"v":1.325},{"s":"b","w":493.47,"v":1.320},{"s":"b","w":493.92,"v":1.325},{"s":"b","w":494.52,"v":1.409},
{"s":"b","w":494.82,"v":1.316},{"s":"b","w":495.13,"v":1.129},{"s":"b","w":495.50,"v":0.848},{"s":"b","w":496.11,"v":0.694},{"s":"b","w":496.64,"v":0.746},{"s":"b","w":497.24,"v":0.792},{"s":"b","w":498.00,"v":0.792},{"s":"b","w":498.60,"v":0.848},{"s":"b","w":499.06,"v":0.895},{"s":"b","w":499.66,"v":0.858},{"s":"b","w":500.27,"v":0.811},{"s":"b","w":501.02,"v":0.848},{"s":"b","w":501.78,"v":0.858},{"s":"b","w":502.54,"v":0.876},{"s":"b","w":503.29,"v":0.904},{"s":"b","w":503.90,"v":0.942},{"s":"b","w":504.50,"v":1.040},{"s":"b","w":505.03,"v":1.026},{"s":"b","w":505.71,"v":1.073},{"s":"b","w":506.31,"v":1.077},{"s":"b","w":506.84,"v":1.054},{"s":"b","w":507.22,"v":1.087},{"s":"b","w":507.98,"v":1.073},{"s":"b","w":508.58,"v":1.147},{"s":"b","w":509.34,"v":1.147},{"s":"b","w":510.10,"v":1.133},{"s":"b","w":510.70,"v":1.129},{"s":"b","w":511.46,"v":1.241},{"s":"b","w":511.98,"v":1.222},{"s":"b","w":512.51,"v":1.171},{"s":"b","w":513.12,"v":1.260},{"s":"b","w":513.72,"v":1.255},{"s":"b","w":514.10,"v":1.222},{"s":"b","w":514.78,"v":1.175},{"s":"b","w":515.39,"v":1.260},{"s":"b","w":515.76,"v":1.367},{"s":"b","w":516.14,"v":1.175},{"s":"b","w":516.52,"v":0.848},{"s":"b","w":516.97,"v":0.638},{"s":"b","w":517.65,"v":0.666},{"s":"b","w":518.41,"v":0.736},{"s":"b","w":519.01,"v":0.792},{"s":"b","w":519.77,"v":0.862},{"s":"b","w":520.15,"v":0.802},{"s":"b","w":520.53,"v":0.750},{"s":"b","w":521.06,"v":0.839},{"s":"b","w":521.58,"v":0.970},{"s":"b","w":522.19,"v":0.961},{"s":"b","w":522.79,"v":1.045},{"s":"b","w":523.25,"v":1.124},{"s":"b","w":523.70,"v":1.063},{"s":"b","w":524.23,"v":0.951},{"s":"b","w":524.61,"v":0.918},{"s":"b","w":525.06,"v":0.951},{"s":"b","w":525.59,"v":1.054},{"s":"b","w":526.12,"v":0.989},{"s":"b","w":526.57,"v":0.942},{"s":"b","w":527.10,"v":1.007},{"s":"b","w":527.63,"v":1.129},{"s":"b","w":528.24,"v":1.175},{"s":"b","w":528.84,"v":1.222},{"s":"b","w":529.37,"v":1.147},{"s":"b","w":529.75,"v":1.175},{"s":"b","w":530.35,"v":1.255},{"s":"b","w":530.88,"v":1.194},{"s":"b","w":531.41,"v":1.213},{"s":"b","w":532.02,"v":1.157},{"s":"b","w":532.55,"v":1.063},{"s":"b","w":533.00,"v":1.138},{"s":"b","w":533.53,"v":1.175},{"s":"b","w":534.13,"v":1.129},{"s":"b","w":534.66,"v":1.157},{"s":"b","w":535.42,"v":1.292},{"s":"b","w":536.02,"v":1.157},{"s":"b","w":536.70,"v":1.101},{"s":"b","w":537.31,"v":1.222},{"s":"b","w":538.06,"v":1.243},{"s":"b","w":538.67,"v":1.194},{"s":"b","w":539.20,"v":1.147},{"s":"b","w":539.95,"v":1.217},{"s":"b","w":540.48,"v":1.129},{"s":"b","w":541.09,"v":1.269},{"s":"b","w":541.69,"v":1.302},{"s":"b","w":542.22,"v":1.297},{"s":"b","w":542.75,"v":1.222},{"s":"b","w":543.20,"v":1.166},{"s":"b","w":544.11,"v":1.339},{"s":"b","w":544.41,"v":1.157},{"s":"b","w":544.87,"v":0.895},{"s":"b","w":545.25,"v":0.783},{"s":"b","w":545.47,"v":0.774},{"s":"b","w":546.15,"v":0.848},{"s":"b","w":546.76,"v":0.914},{"s":"b","w":547.29,"v":0.923},{"s":"b","w":547.89,"v":0.989},{"s":"b","w":548.42,"v":1.031},{"s":"b","w":549.03,"v":1.026},{"s":"b","w":549.56,"v":0.942},{"s":"b","w":550.16,"v":0.904},{"s":"b","w":550.76,"v":0.942},{"s":"b","w":551.37,"v":0.970},{"s":"b","w":551.82,"v":1.073},{"s":"b","w":552.43,"v":1.045},{"s":"b","w":553.18,"v":1.026},{"s":"b","w":553.79,"v":1.101},{"s":"b","w":554.32,"v":1.129},{"s":"b","w":555.07,"v":1.101},{"s":"b","w":555.83,"v":1.077},{"s":"b","w":556.59,"v":1.073},{"s":"b","w":557.34,"v":1.077},{"s":"b","w":558.10,"v":1.063},{"s":"b","w":558.85,"v":1.035},{"s":"b","w":559.38,"v":0.979},{"s":"b","w":559.99,"v":0.904},{"s":"b","w":560.59,"v":0.914},{"s":"b","w":561.12,"v":0.918},{"s":"b","w":561.65,"v":0.895},{"s":"b","w":562.26,"v":0.872},{"s":"b","w":562.86,"v":0.862},{"s":"b","w":563.39,"v":0.872},{"s":"b","w":563.92,"v":0.862},{"s":"b","w":564.52,"v":0.904},{"s":"b","w":565.28,"v":1.007},{"s":"b","w":565.88,"v":0.989},{"s":"b","w":566.64,"v":0.942},{"s":"b","w":567.17,"v":0.970},{"s":"b","w":567.70,"v":1.035},{"s":"b","w":568.30,"v":1.045},{"s":"b","w":569.06,"v":1.054},{"s":"b","w":569.44,"v":1.077},{"s":"b","w":570.19,"v":1.077},{"s":"b","w":570.95,"v":1.091},{"s":"b","w":571.70,"v":1.082},{"s":"b","w":572.46,"v":1.073},{"s":"b","w":572.99,"v":1.105},{"s":"b","w":573.59,"v":1.101},{"s":"b","w":574.20,"v":1.175},{"s":"b","w":574.73,"v":1.213},{"s":"b","w":575.33,"v":1.217},{"s":"b","w":575.86,"v":1.147},{"s":"b","w":576.24,"v":1.063},{"s":"b","w":576.77,"v":1.101},{"s":"b","w":577.37,"v":1.129},{"s":"b","w":577.98,"v":1.147},{"s":"b","w":578.51,"v":1.175},{"s":"b","w":579.04,"v":1.241},{"s":"b","w":579.64,"v":1.334},{"s":"b","w":580.25,"v":1.388},{"s":"b","w":580.78,"v":1.316},{"s":"b","w":581.31,"v":1.138},{"s":"b","w":581.91,"v":1.119},{"s":"b","w":582.51,"v":1.138},{"s":"b","w":583.04,"v":1.199},{"s":"b","w":583.57,"v":1.185},{"s":"b","w":584.18,"v":1.166},{"s":"b","w":584.78,"v":0.998},{"s":"b","w":585.31,"v":0.942},{"s":"b","w":585.84,"v":0.942},{"s":"b","w":586.44,"v":0.923},{"s":"b","w":586.82,"v":0.942},{"s":"b","w":587.35,"v":0.998},{"s":"b","w":587.96,"v":0.914},{"s":"b","w":588.49,"v":0.839},{"s":"b","w":589.09,"v":0.722},{"s":"b","w":589.62,"v":0.746},{"s":"b","w":590.22,"v":0.802},
{"s":"b","w":590.98,"v":0.815},{"s":"b","w":591.73,"v":0.825},{"s":"b","w":592.49,"v":0.846},{"s":"b","w":593.24,"v":0.877},{"s":"b","w":593.85,"v":0.903},{"s":"b","w":594.38,"v":0.893},{"s":"b","w":595.13,"v":0.872},{"s":"b","w":595.66,"v":0.857},{"s":"b","w":596.27,"v":0.888},{"s":"b","w":597.02,"v":0.909},{"s":"b","w":597.78,"v":0.924},{"s":"b","w":598.38,"v":0.966},{"s":"b","w":598.91,"v":1.023},{"s":"b","w":599.44,"v":1.064},{"s":"b","w":600.05,"v":1.028},{"s":"b","w":600.80,"v":1.038},{"s":"b","w":601.56,"v":1.075},{"s":"b","w":602.16,"v":1.142},{"s":"b","w":602.69,"v":1.158},{"s":"b","w":603.22,"v":1.179},{"s":"b","w":603.83,"v":1.142},{"s":"b","w":604.43,"v":1.236},{"s":"b","w":604.96,"v":1.241},{"s":"b","w":605.72,"v":1.226},{"s":"b","w":606.25,"v":1.215},{"s":"b","w":606.85,"v":1.252},{"s":"b","w":607.46,"v":1.272},{"s":"b","w":608.21,"v":1.210},{"s":"b","w":608.97,"v":1.252},{"s":"b","w":609.72,"v":1.335},{"s":"b","w":610.25,"v":1.283},{"s":"b","w":610.78,"v":1.319},{"s":"b","w":611.39,"v":1.361},{"s":"b","w":611.99,"v":1.298},{"s":"b","w":612.60,"v":1.376},{"s":"b","w":613.05,"v":1.418},{"s":"b","w":613.50,"v":1.355},{"s":"b","w":613.96,"v":1.418},{"s":"b","w":614.41,"v":1.514},{"s":"b","w":614.94,"v":1.418},{"s":"b","w":615.39,"v":1.231},{"s":"b","w":615.77,"v":1.044},{"s":"b","w":616.15,"v":0.877},{"s":"b","w":616.53,"v":0.862},{"s":"b","w":617.06,"v":0.888},{"s":"b","w":617.59,"v":0.898},{"s":"b","w":618.04,"v":0.882},{"s":"b","w":618.57,"v":0.815},{"s":"b","w":619.10,"v":0.773},{"s":"b","w":619.70,"v":0.794},{"s":"b","w":620.31,"v":0.825},{"s":"b","w":620.84,"v":0.831},{"s":"b","w":621.37,"v":0.768},{"s":"b","w":621.97,"v":0.732},{"s":"b","w":622.58,"v":0.711},{"s":"b","w":623.10,"v":0.716},{"s":"b","w":623.63,"v":0.737},{"s":"b","w":624.24,"v":0.727},{"s":"b","w":624.84,"v":0.768},{"s":"b","w":625.37,"v":0.794},{"s":"b","w":625.90,"v":0.805},{"s":"b","w":626.51,"v":0.841},{"s":"b","w":627.26,"v":0.841},{"s":"b","w":627.87,"v":0.825},{"s":"b","w":628.40,"v":0.877},{"s":"b","w":628.92,"v":0.924},{"s":"b","w":629.53,"v":0.903},{"s":"b","w":630.29,"v":0.960},{"s":"b","w":631.04,"v":1.012},{"s":"b","w":631.65,"v":1.049},{"s":"b","w":632.25,"v":1.033},{"s":"b","w":632.93,"v":1.049},{"s":"b","w":633.69,"v":1.064},{"s":"b","w":634.44,"v":1.096},{"s":"b","w":635.20,"v":1.064},{"s":"b","w":635.95,"v":0.971},{"s":"b","w":636.48,"v":1.044},{"s":"b","w":637.09,"v":1.137},{"s":"b","w":637.85,"v":1.122},{"s":"b","w":638.60,"v":1.122},{"s":"b","w":639.36,"v":1.158},{"s":"b","w":639.96,"v":1.210},{"s":"b","w":640.49,"v":1.252},{"s":"b","w":641.02,"v":1.241},{"s":"b","w":641.62,"v":1.168},{"s":"b","w":642.23,"v":1.142},{"s":"b","w":642.76,"v":1.158},{"s":"b","w":643.52,"v":1.210},{"s":"b","w":644.19,"v":1.293},{"s":"b","w":644.80,"v":1.210},{"s":"b","w":645.25,"v":1.200},{"s":"b","w":645.78,"v":1.257},{"s":"b","w":646.54,"v":1.293},{"s":"b","w":647.07,"v":1.262},{"s":"b","w":647.67,"v":1.148},{"s":"b","w":648.20,"v":1.054},{"s":"b","w":648.81,"v":1.044},{"s":"b","w":649.56,"v":0.997},{"s":"b","w":650.09,"v":1.064},{"s":"b","w":650.70,"v":1.085},{"s":"b","w":651.30,"v":1.080},{"s":"b","w":651.68,"v":1.064},{"s":"b","w":652.21,"v":1.127},{"s":"b","w":652.81,"v":1.179},{"s":"b","w":653.34,"v":1.200},{"s":"b","w":653.72,"v":1.246},{"s":"b","w":654.33,"v":1.158},{"s":"b","w":654.85,"v":1.127},{"s":"b","w":655.23,"v":1.168},{"s":"b","w":655.61,"v":1.439},{"s":"b","w":655.99,"v":1.854},{"s":"b","w":656.29,"v":2.092},{"s":"b","w":656.59,"v":1.699},{"s":"b","w":656.90,"v":1.283},{"s":"b","w":657.27,"v":1.106},{"s":"b","w":657.73,"v":1.101},{"s":"b","w":658.26,"v":1.127},{"s":"b","w":658.71,"v":1.137},{"s":"b","w":659.16,"v":1.085},{"s":"b","w":659.62,"v":1.064},{"s":"b","w":660.15,"v":1.064},{"s":"b","w":660.67,"v":1.054},{"s":"b","w":661.28,"v":1.059},{"s":"b","w":661.81,"v":1.044},{"s":"b","w":662.41,"v":0.971},{"s":"b","w":662.94,"v":0.966},{"s":"b","w":663.55,"v":0.935},{"s":"b","w":664.15,"v":0.940},{"s":"b","w":664.68,"v":0.877},{"s":"b","w":665.21,"v":0.805},{"s":"b","w":665.66,"v":0.784},{"s":"b","w":666.19,"v":0.815},{"s":"b","w":666.72,"v":0.846},{"s":"b","w":667.18,"v":0.867},{"s":"b","w":667.55,"v":0.877},{"s":"b","w":668.08,"v":0.805},{"s":"b","w":668.69,"v":0.747},{"s":"b","w":669.22,"v":0.742},{"s":"b","w":669.97,"v":0.779},{"s":"b","w":670.50,"v":0.810},{"s":"b","w":671.11,"v":0.789},{"s":"b","w":671.71,"v":0.737},{"s":"b","w":672.09,"v":0.711},{"s":"b","w":672.77,"v":0.747},{"s":"b","w":673.38,"v":0.789},{"s":"b","w":673.98,"v":0.810},{"s":"b","w":674.51,"v":0.794},{"s":"b","w":675.04,"v":0.794},{"s":"b","w":675.64,"v":0.815},{"s":"b","w":676.40,"v":0.862},{"s":"b","w":677.00,"v":0.888},{"s":"b","w":677.53,"v":0.935},{"s":"b","w":678.14,"v":0.846},{"s":"b","w":678.67,"v":0.799},{"s":"b","w":679.27,"v":0.831},{"s":"b","w":680.03,"v":0.857},{"s":"b","w":680.56,"v":0.877},{"s":"b","w":681.31,"v":0.872},{"s":"b","w":681.84,"v":0.877},{"s":"b","w":682.45,"v":0.909},{"s":"b","w":683.20,"v":0.955},{"s":"b","w":683.81,"v":0.971},{"s":"b","w":684.49,"v":1.000},{"s":"b","w":685.09,"v":0.955},{"s":"b","w":685.62,"v":0.929},{"s":"b","w":686.08,"v":0.966},{"s":"b","w":686.60,"v":0.825},{"s":"b","w":687.06,"v":0.763},{"s":"b","w":687.51,"v":0.888},{"s":"b","w":688.11,"v":1.002},{"s":"b","w":688.72,"v":0.997},{"s":"b","w":689.25,"v":1.033},{"s":"b","w":690.01,"v":1.116},{"s":"b","w":690.76,"v":1.210},{"s":"b","w":691.37,"v":1.252},{"s":"b","w":691.90,"v":1.210},
{"s":"b","w":692.28,"v":1.186},{"s":"b","w":693.04,"v":1.201},{"s":"b","w":693.64,"v":1.264},{"s":"b","w":694.17,"v":1.274},{"s":"b","w":694.70,"v":1.331},{"s":"b","w":695.30,"v":1.373},{"s":"b","w":695.68,"v":1.363},{"s":"b","w":696.21,"v":1.498},{"s":"b","w":696.66,"v":1.540},{"s":"b","w":697.19,"v":1.566},{"s":"b","w":697.72,"v":1.560},{"s":"b","w":698.33,"v":1.581},{"s":"b","w":698.93,"v":1.482},{"s":"b","w":699.46,"v":1.503},{"s":"b","w":699.99,"v":1.514},{"s":"b","w":700.60,"v":1.519},{"s":"b","w":700.97,"v":1.550},{"s":"b","w":701.50,"v":1.540},{"s":"b","w":701.96,"v":1.571},{"s":"b","w":702.49,"v":1.566},{"s":"b","w":702.86,"v":1.592},{"s":"b","w":703.32,"v":1.654},{"s":"b","w":703.77,"v":1.623},{"s":"b","w":704.22,"v":1.685},{"s":"b","w":704.60,"v":1.722},{"s":"b","w":704.90,"v":1.675},{"s":"b","w":705.13,"v":1.467},{"s":"b","w":705.51,"v":1.207},{"s":"b","w":705.89,"v":0.978},{"s":"b","w":706.34,"v":1.009},{"s":"b","w":706.87,"v":1.071},{"s":"b","w":707.40,"v":1.102},{"s":"b","w":708.00,"v":1.123},{"s":"b","w":708.31,"v":1.082},{"s":"b","w":708.76,"v":0.894},{"s":"b","w":709.21,"v":0.822},{"s":"b","w":709.82,"v":0.842},{"s":"b","w":710.42,"v":0.894},{"s":"b","w":711.03,"v":0.946},{"s":"b","w":711.63,"v":0.978},{"s":"b","w":712.09,"v":0.915},{"s":"b","w":712.54,"v":0.780},{"s":"b","w":713.14,"v":0.707},{"s":"b","w":713.75,"v":0.717},{"s":"b","w":714.35,"v":0.749},{"s":"b","w":714.96,"v":0.780},{"s":"b","w":715.49,"v":0.801},{"s":"b","w":715.94,"v":0.749},{"s":"b","w":716.47,"v":0.686},{"s":"b","w":717.08,"v":0.665},{"s":"b","w":717.60,"v":0.655},{"s":"b","w":718.13,"v":0.691},{"s":"b","w":718.59,"v":0.655},{"s":"b","w":719.19,"v":0.686},{"s":"b","w":719.64,"v":0.676},{"s":"b","w":720.10,"v":0.619},{"s":"b","w":720.63,"v":0.676},{"s":"b","w":721.16,"v":0.759},{"s":"b","w":721.76,"v":0.801},{"s":"b","w":722.22,"v":0.827},{"s":"b","w":722.75,"v":0.811},{"s":"b","w":723.27,"v":0.733},{"s":"b","w":723.88,"v":0.770},{"s":"b","w":724.41,"v":0.801},{"s":"b","w":724.94,"v":0.822},{"s":"b","w":725.54,"v":0.879},{"s":"b","w":726.07,"v":0.853},{"s":"b","w":726.68,"v":0.894},{"s":"b","w":727.21,"v":0.822},{"s":"b","w":727.81,"v":0.894},{"s":"b","w":728.34,"v":0.962},{"s":"b","w":728.94,"v":0.874},{"s":"b","w":729.47,"v":0.978},{"s":"b","w":730.08,"v":0.946},{"s":"b","w":730.61,"v":0.972},{"s":"b","w":731.21,"v":0.998},{"s":"b","w":731.74,"v":1.061},{"s":"b","w":732.35,"v":1.077},{"s":"b","w":732.95,"v":1.082},{"s":"b","w":733.40,"v":1.113},{"s":"b","w":733.86,"v":1.165},{"s":"b","w":734.31,"v":1.113},{"s":"b","w":734.77,"v":1.102},{"s":"b","w":735.22,"v":1.071},{"s":"b","w":735.75,"v":1.061},{"s":"b","w":736.28,"v":1.102},{"s":"b","w":736.88,"v":1.165},{"s":"b","w":737.49,"v":1.201},{"s":"b","w":738.01,"v":1.196},{"s":"b","w":738.54,"v":1.165},{"s":"b","w":739.15,"v":1.154},{"s":"b","w":739.75,"v":1.165},{"s":"b","w":740.28,"v":1.180},{"s":"b","w":740.81,"v":1.144},{"s":"b","w":741.42,"v":1.123},{"s":"b","w":742.02,"v":1.113},{"s":"b","w":742.55,"v":1.144},{"s":"b","w":743.08,"v":1.139},{"s":"b","w":743.68,"v":1.144},{"s":"b","w":744.29,"v":1.123},{"s":"b","w":744.97,"v":1.175},{"s":"b","w":745.42,"v":1.144},{"s":"b","w":745.95,"v":1.113},{"s":"b","w":746.48,"v":1.154},{"s":"b","w":746.86,"v":1.108},{"s":"b","w":747.31,"v":1.144},{"s":"b","w":747.84,"v":1.165},{"s":"b","w":748.37,"v":1.149},{"s":"b","w":748.82,"v":1.108},{"s":"b","w":749.35,"v":1.144},{"s":"b","w":749.88,"v":1.165},{"s":"b","w":750.49,"v":1.175},{"s":"b","w":751.09,"v":1.165},{"s":"b","w":751.62,"v":1.207},{"s":"b","w":752.00,"v":1.227},{"s":"b","w":752.61,"v":1.212},{"s":"b","w":753.13,"v":1.233},{"s":"b","w":753.66,"v":1.243},{"s":"b","w":754.27,"v":1.253},{"s":"b","w":754.87,"v":1.264},{"s":"b","w":755.40,"v":1.269},{"s":"b","w":755.93,"v":1.295},{"s":"b","w":756.54,"v":1.300},{"s":"b","w":757.06,"v":1.311},{"s":"b","w":757.59,"v":1.321},{"s":"b","w":757.90,"v":1.326},{"s":"b","w":758.20,"v":1.290},{"s":"b","w":758.58,"v":1.165},{"s":"b","w":758.88,"v":0.998},{"s":"b","w":759.18,"v":0.738},{"s":"b","w":759.48,"v":0.478},{"s":"b","w":759.79,"v":0.312},{"s":"b","w":760.09,"v":0.270},{"s":"b","w":760.47,"v":0.322},{"s":"b","w":760.84,"v":0.530},{"s":"b","w":761.30,"v":0.686},{"s":"b","w":761.83,"v":0.822},{"s":"b","w":762.21,"v":0.686},{"s":"b","w":762.58,"v":0.530},{"s":"b","w":763.11,"v":0.488},{"s":"b","w":763.64,"v":0.551},{"s":"b","w":764.10,"v":0.634},{"s":"b","w":764.62,"v":0.728},{"s":"b","w":765.15,"v":0.811},{"s":"b","w":765.61,"v":0.889},{"s":"b","w":766.06,"v":0.863},{"s":"b","w":766.52,"v":0.822},{"s":"b","w":767.12,"v":0.842},{"s":"b","w":767.72,"v":0.894},{"s":"b","w":768.25,"v":0.946},{"s":"b","w":768.78,"v":0.988},{"s":"b","w":769.39,"v":1.014},{"s":"b","w":769.99,"v":1.030},{"s":"b","w":770.52,"v":1.019},{"s":"b","w":771.05,"v":1.009},{"s":"b","w":771.66,"v":1.082},{"s":"b","w":772.26,"v":1.175},{"s":"b","w":772.79,"v":1.217},{"s":"b","w":773.32,"v":1.243},{"s":"b","w":773.92,"v":1.248},{"s":"b","w":774.45,"v":1.175},{"s":"b","w":774.98,"v":1.113},{"s":"b","w":775.43,"v":1.144},{"s":"b","w":776.04,"v":1.165},{"s":"b","w":776.57,"v":1.196},{"s":"b","w":777.10,"v":1.233},{"s":"b","w":777.70,"v":1.238},{"s":"b","w":778.23,"v":1.207},{"s":"b","w":778.84,"v":1.186},{"s":"b","w":779.37,"v":1.207},{"s":"b","w":779.97,"v":1.227},{"s":"b","w":780.58,"v":1.269},{"s":"b","w":781.10,"v":1.300},{"s":"b","w":781.63,"v":1.300},{"s":"b","w":782.24,"v":1.217},{"s":"b","w":782.77,"v":1.123},{"s":"b","w":783.37,"v":1.102},{"s":"b","w":783.90,"v":1.102},{"s":"b","w":784.51,"v":1.092},{"s":"b","w":785.11,"v":1.082},{"s":"b","w":785.64,"v":1.061},{"s":"b","w":786.17,"v":1.040},{"s":"b","w":786.77,"v":1.019},{"s":"b","w":787.38,"v":1.019},{"s":"b","w":787.91,"v":1.024},{"s":"b","w":788.44,"v":1.009},{"s":"b","w":789.04,"v":0.998},{"s":"b","w":789.65,"v":0.967},{"s":"b","w":790.25,"v":0.952},{"s":"b","w":790.78,"v":0.915},{"s":"b","w":791.31,"v":0.894},{"s":"b","w":791.91,"v":0.920},{"s":"b","w":792.44,"v":0.946},{"s":"b","w":793.05,"v":0.978},{"s":"b","w":793.58,"v":0.998},{"s":"b","w":794.18,"v":0.998},{"s":"b","w":794.71,"v":1.004},{"s":"b","w":795.09,"v":1.066},{"s":"b","w":795.70,"v":1.066},{"s":"b","w":796.22,"v":1.061},{"s":"b","w":796.75,"v":1.144},{"s":"b","w":797.36,"v":1.154},{"s":"b","w":797.96,"v":1.157},{"s":"b","w":798.49,"v":1.123},{"s":"b","w":799.02,"v":1.102},{"s":"b","w":799.47,"v":1.071},{"s":"b","w":799.78,"v":1.040}
]},
"mark": {"type": "line", "strokeWidth": 1.4},
"encoding": {
"x": {"field": "w", "type": "quantitative", "scale": {"domain": [392.75, 800], "nice": false, "zero": false}, "axis": {"orient": "bottom", "values": [400,450,500,550,600,650,700,750,800], "format": ".1f", "grid": false, "tickSize": 4, "tickColor": "#000000", "labelPadding": 1, "labelFontSize": 11, "labelFont": "Liberation Sans", "labelColor": "#1a1a1a", "labelFlush": false, "domainColor": "#000000", "domainWidth": 1.5, "title": "Wavelength (nm)", "titleFontSize": 11, "titleFont": "Liberation Sans", "titleFontWeight": "normal", "titleColor": "#000000", "titlePadding": 5}},
"y": {"field": "v", "type": "quantitative", "scale": {"domain": [0.1457, 2.2549], "nice": false, "zero": false}, "axis": {"orient": "left", "values": [0.5, 1, 1.5, 2], "format": ".1f", "grid": true, "gridColor": "#c8c8c8", "gridDash": [1, 2], "gridWidth": 1, "ticks": false, "tickSize": 0, "labelPadding": 6, "labelFontSize": 11, "labelFont": "Liberation Sans", "labelColor": "#1a1a1a", "domainColor": "#000000", "domainWidth": 1.5, "title": "ADU (normalized, 50 px resample)", "titleFontSize": 11, "titleFont": "Liberation Sans", "titleFontWeight": "normal", "titleColor": "#000000", "titlePadding": 24}},
"color": {"field": "s", "type": "nominal", "scale": {"domain": ["a", "b"], "range": ["#2a5b96", "#ff0000"]}, "legend": {"orient": "none", "legendX": 103, "legendY": 70, "title": null, "labelExpr": "datum.value == 'a' ? 'T CrB 24.06.2024' : 'T CrB 28.06.2024'", "symbolType": "square", "symbolSize": 1, "symbolStrokeWidth": 0, "symbolOpacity": 0, "labelOffset": -10, "labelFontSize": 11, "labelFont": "Liberation Sans", "padding": 5, "rowPadding": 3, "strokeColor": "#000000", "fillColor": "#ffffff", "cornerRadius": 0, "encode": {"labels": {"update": {"fill": {"signal": "datum.value === 'a' ? '#2a5b96' : '#ff0000'"}}}}}}
}
},
{
"data": {"values": [{}]},
"mark": {"type": "text", "align": "left", "baseline": "alphabetic", "fontSize": 11, "font": "Liberation Sans", "lineHeight": 12.25, "color": "#000000", "text": ["Instrument:", "14'' Hypergraph f/5.7", "LISA Spektrograph 300l/mm"]},
"encoding": {
"x": {"datum": 749.9, "type": "quantitative", "scale": {"domain": [392.75, 800], "nice": false, "zero": false}, "axis": null},
"y": {"datum": 2.1829, "type": "quantitative", "scale": {"domain": [0.1457, 2.2549], "nice": false, "zero": false}, "axis": null}
}
},
{
"data": {"values": [{}]},
"mark": {"type": "text", "align": "left", "baseline": "alphabetic", "fontSize": 11, "font": "Liberation Sans", "lineHeight": 12.25, "color": "#000000", "text": ["Kamera: ToupTek 533", "7 \u00a0x 300 s"]},
"encoding": {
"x": {"datum": 749.9, "type": "quantitative", "scale": {"domain": [392.75, 800], "nice": false, "zero": false}, "axis": null},
"y": {"datum": 2.0457, "type": "quantitative", "scale": {"domain": [0.1457, 2.2549], "nice": false, "zero": false}, "axis": null}
}
},
{
"data": {"values": [{}]},
"mark": {"type": "text", "align": "left", "baseline": "middle", "angle": 90, "fontSize": 11, "font": "Liberation Sans", "color": "#c8c8c8", "text": "BASS Project 1.9.9 Beta 08E Release 64bit"},
"encoding": {
"x": {"datum": 801.75, "type": "quantitative", "scale": {"domain": [392.75, 800], "nice": false, "zero": false}, "axis": null},
"y": {"datum": 1.491, "type": "quantitative", "scale": {"domain": [0.1457, 2.2549], "nice": false, "zero": false}, "axis": null}
}
}
],
"resolve": {"axis": {"x": "independent", "y": "independent"}}
}
